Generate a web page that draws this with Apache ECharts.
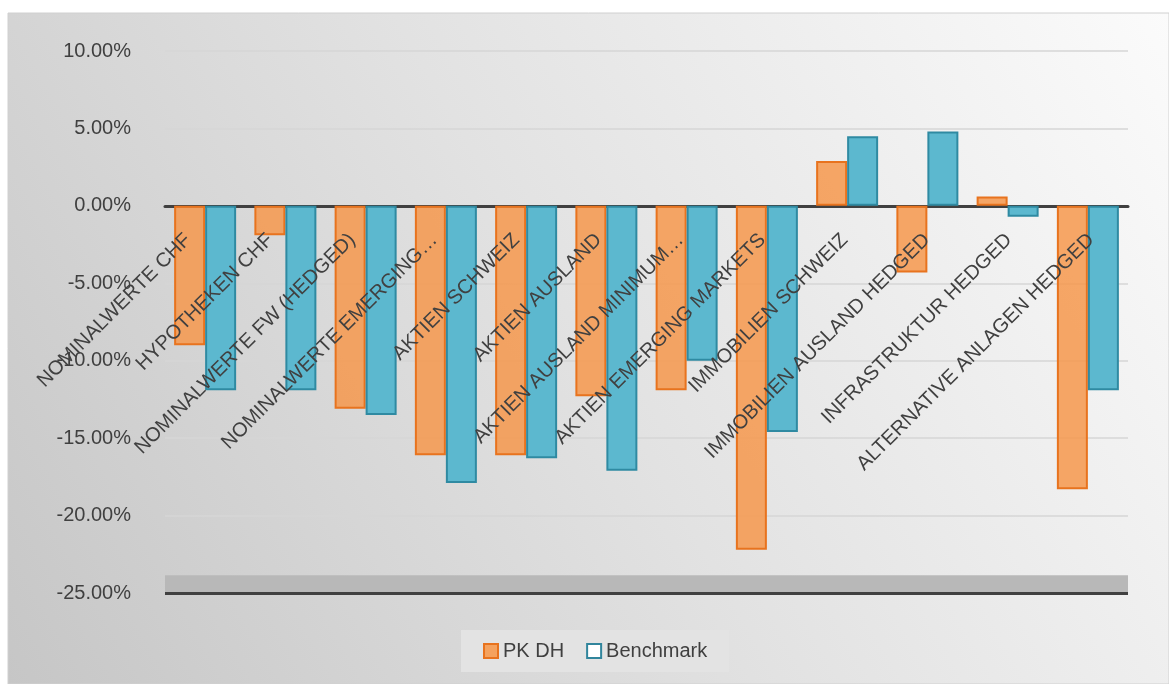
<!DOCTYPE html>
<html>
<head>
<meta charset="utf-8">
<script src="https://cdn.jsdelivr.net/npm/echarts@6/dist/echarts.min.js"></script>
<style>
html,body{margin:0;padding:0;background:#fff;}
#c{width:1169px;height:684px;}
</style>
</head>
<body>
<div id="c"></div>
<script>
const categories = [
  'NOMINALWERTE CHF',
  'HYPOTHEKEN CHF',
  'NOMINALWERTE FW (HEDGED)',
  'NOMINALWERTE EMERGING…',
  'AKTIEN SCHWEIZ',
  'AKTIEN AUSLAND',
  'AKTIEN AUSLAND MINIMUM…',
  'AKTIEN EMERGING MARKETS',
  'IMMOBILIEN SCHWEIZ',
  'IMMOBILIEN AUSLAND HEDGED',
  'INFRASTRUKTUR HEDGED',
  'ALTERNATIVE ANLAGEN HEDGED'
];
const pkDH = [-9.0, -1.9, -13.1, -16.1, -16.1, -12.3, -11.9, -22.2, 2.9, -4.3, 0.6, -18.3];
const benchmark = [-11.9, -11.9, -13.5, -17.9, -16.3, -17.1, -10.0, -14.6, 4.5, 4.8, -0.7, -11.9];
const yMin = -25, yMax = 10, yStep = 5;

const gridTop = 51, gridBottom = 91, H = 684;
const plotH = H - gridTop - gridBottom;
const zeroOffset = -plotH * (0 - yMin) / (yMax - yMin);

const chart = echarts.init(document.getElementById('c'));
const font = 'Liberation Sans, Arial, sans-serif';
chart.setOption({
  animation: false,
  graphic: [{
    type: 'rect', z: -10, silent: true,
    shape: {x: 8, y: 13, width: 1161, height: 671},
    style: {
      fill: new echarts.graphic.LinearGradient(0, 1, 1, 0, [
        {offset: 0, color: '#c6c6c6'},
        {offset: 0.5, color: '#e2e2e2'},
        {offset: 1, color: '#fbfbfb'}
      ]),
      stroke: '#d0d0d0', lineWidth: 1
    }
  }],
  legend: {
    left: 461, top: 630,
    padding: [11, 22],
    backgroundColor: '#e3e3e3',
    itemWidth: 14, itemHeight: 14, itemGap: 22,
    textStyle: {fontFamily: font, fontSize: 20, color: '#404040'},
    data: [
      {name: 'PK DH', icon: 'rect', itemStyle: {color: '#f5a25e', borderColor: '#e8731e', borderWidth: 2}},
      {name: 'Benchmark', icon: 'rect', itemStyle: {color: '#ffffff', borderColor: '#31859c', borderWidth: 2}}
    ]
  },
  grid: [
    {left: 165, right: 41, top: gridTop, bottom: gridBottom, outerBoundsMode: 'none', containLabel: false},
    {left: 147, right: 37, top: gridTop, bottom: gridBottom, outerBoundsMode: 'none', containLabel: false}
  ],
  xAxis: [
    {
      type: 'category', gridIndex: 0,
      data: categories,
      offset: zeroOffset,
      axisLine: {onZero: false, lineStyle: {color: '#404040', width: 3}},
      axisTick: {show: false},
      axisLabel: {show: false}
    },
    {
      type: 'category', gridIndex: 1,
      data: categories,
      z: 10,
      offset: zeroOffset,
      axisLine: {show: false, onZero: false},
      axisTick: {show: false},
      axisLabel: {
        interval: 0, rotate: 45, margin: 31,
        fontFamily: font, fontSize: 20, color: '#404040'
      }
    }
  ],
  yAxis: [
    {
      type: 'value', gridIndex: 0,
      min: yMin, max: yMax, interval: yStep,
      axisLine: {show: false},
      axisTick: {show: false},
      splitLine: {lineStyle: {color: '#d6d6d6', width: 1.5}},
      axisLabel: {
        margin: 34, fontFamily: font, fontSize: 20, color: '#404040',
        formatter: v => v.toFixed(2) + '%'
      }
    },
    {
      type: 'value', gridIndex: 1,
      min: yMin, max: yMax, interval: yStep,
      show: false
    }
  ],
  series: [
    {
      name: 'PK DH', type: 'bar', data: pkDH,
      xAxisIndex: 0, yAxisIndex: 0,
      barWidth: 31, barGap: '0%',
      itemStyle: {color: 'rgba(246,152,76,0.85)', borderColor: '#e8731e', borderWidth: 2},
      markArea: {
        silent: true,
        itemStyle: {color: '#b8b8b8'},
        data: [[{yAxis: yMin}, {yAxis: yMin + 1.15}]]
      },
      markLine: {
        silent: true, symbol: 'none', label: {show: false},
        lineStyle: {color: '#404040', width: 3, type: 'solid'},
        data: [{yAxis: yMin}]
      }
    },
    {
      name: 'Benchmark', type: 'bar', data: benchmark,
      xAxisIndex: 0, yAxisIndex: 0,
      barWidth: 31,
      itemStyle: {color: '#5cb8cf', borderColor: '#2f8aa2', borderWidth: 2}
    }
  ]
});
</script>
</body>
</html>
